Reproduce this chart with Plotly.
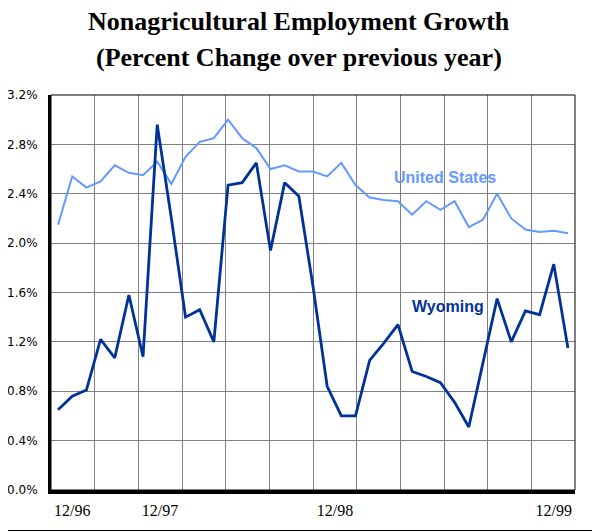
import plotly.graph_objects as go

# monthly index, 37 observations
period = list(range(37))
us = [2.15, 2.54, 2.45, 2.50, 2.63, 2.57, 2.55, 2.66, 2.48, 2.70, 2.82, 2.85, 3.00,
      2.85, 2.77, 2.60, 2.63, 2.58, 2.58, 2.54, 2.65, 2.47, 2.37, 2.35, 2.34, 2.23,
      2.34, 2.27, 2.34, 2.13, 2.19, 2.40, 2.20, 2.11, 2.09, 2.10, 2.08]
wyoming = [0.65, 0.76, 0.81, 1.22, 1.07, 1.58, 1.08, 2.96, 2.20, 1.40, 1.46, 1.20, 2.47,
           2.49, 2.65, 1.94, 2.49, 2.38, 1.65, 0.84, 0.60, 0.60, 1.05, 1.19, 1.34, 0.96,
           0.92, 0.87, 0.71, 0.51, 1.03, 1.55, 1.20, 1.45, 1.42, 1.83, 1.15]
tick_pos = [1, 7.2, 19.55, 35]
tick_text = ["12/96", "12/97", "12/98", "12/99"]

US_COLOR = "#6699FF"
WY_COLOR = "#003399"
XR = [-0.5, 36.5]

fig = go.Figure()
fig.add_trace(go.Scatter(x=period, y=us, mode="lines", name="United States",
                         line=dict(color=US_COLOR, width=2)))
fig.add_trace(go.Scatter(x=period, y=wyoming, mode="lines", name="Wyoming", xaxis="x2",
                         line=dict(color=WY_COLOR, width=2.8)))

# page body has an 8px margin, so the figure is 8px smaller than the window
fig.update_layout(
    width=592, height=524,
    margin=dict(l=43, r=25, t=87, b=42),
    paper_bgcolor="white", plot_bgcolor="white",
    showlegend=False,
    xaxis=dict(
        range=XR, tickmode="linear", tick0=-0.5, dtick=37 / 12,
        showticklabels=False, ticks="", automargin=False,
        showgrid=True, gridcolor="#808080", gridwidth=1, zeroline=False,
        showline=True, linecolor="black", linewidth=4,
    ),
    xaxis2=dict(
        range=XR, overlaying="x", anchor="y", side="bottom", automargin=False,
        tickmode="array", tickvals=tick_pos, ticktext=tick_text,
        showgrid=False, zeroline=False,
        ticks="outside", ticklen=6, tickcolor="rgba(0,0,0,0)",
        tickfont=dict(family="Liberation Serif", size=16, color="black"),
    ),
    yaxis=dict(
        range=[0, 3.2], dtick=0.4, tickformat=".1f", ticksuffix="%", automargin=False,
        showgrid=True, gridcolor="#808080", gridwidth=1, zeroline=False,
        ticks="outside", ticklen=8, tickcolor="rgba(0,0,0,0)",
        tickfont=dict(family="DejaVu Sans", size=12, color="black"),
        showline=True, linecolor="black", linewidth=3,
    ),
    shapes=[
        dict(type="rect", xref="x domain", yref="y domain", x0=0, x1=1, y0=0, y1=1,
             line=dict(color="black", width=1), layer="above"),
        dict(type="line", xref="paper", yref="paper", x0=1.0437, x1=1.0437,
             y0=-0.105, y1=1.3, line=dict(color="black", width=1)),
        dict(type="line", xref="paper", yref="paper", x0=-0.2, x1=1.0447,
             y0=-0.1025, y1=-0.1025, line=dict(color="black", width=1)),
    ],
    annotations=[
        dict(text="Nonagricultural Employment Growth", xref="paper", yref="paper",
             x=0.473, y=1.187, yanchor="middle", showarrow=False,
             font=dict(family="Liberation Serif", size=26, color="black", weight="bold")),
        dict(text="(Percent Change over previous year)", xref="paper", yref="paper",
             x=0.473, y=1.094, yanchor="middle", showarrow=False,
             font=dict(family="Liberation Serif", size=26, color="black", weight="bold")),
        dict(text="United States", x=27.3, y=2.53, showarrow=False,
             font=dict(family="Liberation Sans", size=16, color=US_COLOR, weight="bold")),
        dict(text="Wyoming", x=27.5, y=1.485, showarrow=False,
             font=dict(family="Liberation Sans", size=16, color=WY_COLOR, weight="bold")),
    ],
)

fig.write_html("out.html")
